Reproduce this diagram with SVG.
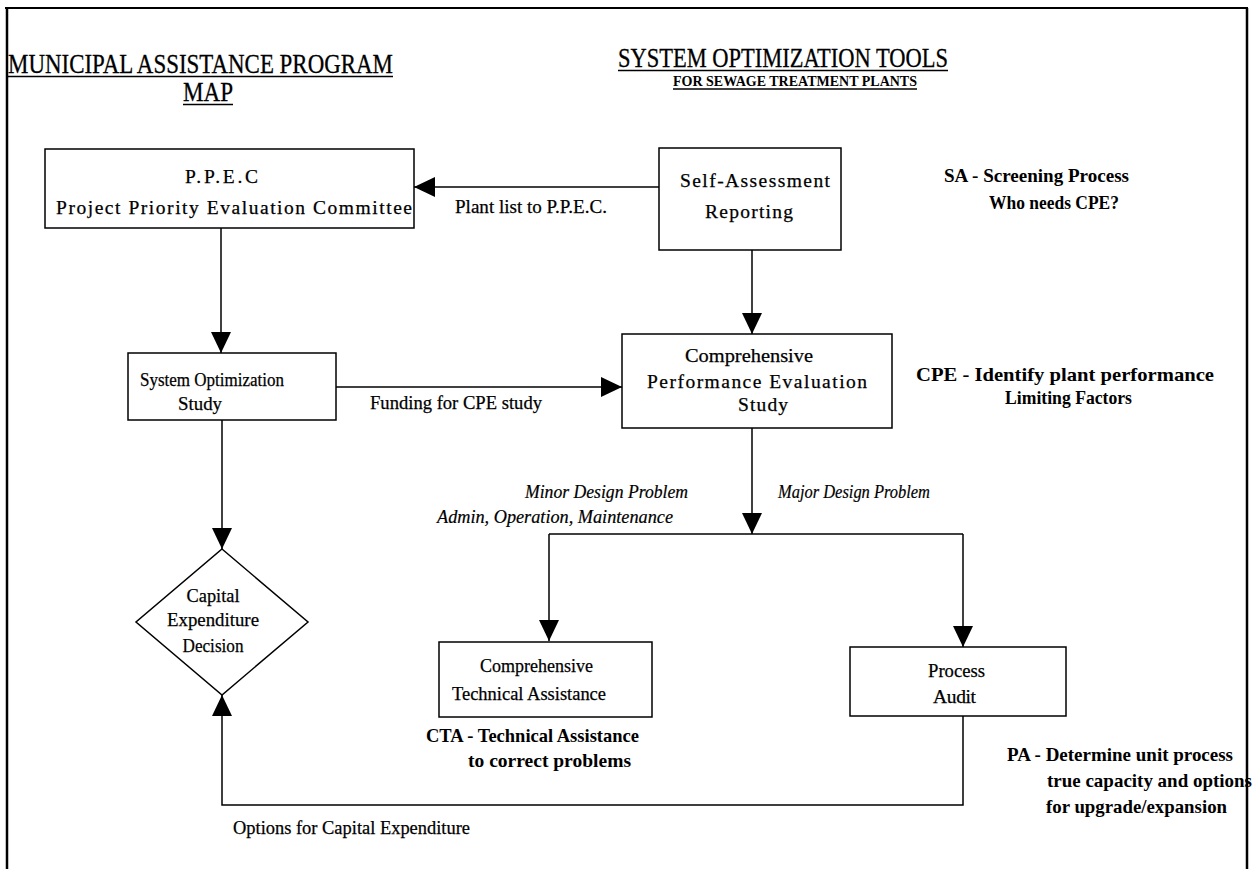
<svg xmlns="http://www.w3.org/2000/svg" width="1257" height="869" viewBox="0 0 1257 869">
  <defs>
    <marker id="arrow" markerUnits="userSpaceOnUse" markerWidth="22" markerHeight="20" refX="21" refY="10" orient="auto">
      <path d="M0,0 L21,10 L0,20 Z" fill="#000"/>
    </marker>
    <style>
      text { font-family: "Liberation Serif", "Times New Roman", serif; fill: #000; }
      .title { font-size: 27px; stroke: #000; stroke-width: 0.3; }
      .sub { font-size: 14px; font-weight: bold; }
      .box { fill: #fff; stroke: #000; stroke-width: 1.5; }
      .lbl { font-size: 19.5px; stroke: #000; stroke-width: 0.25; }
      .ital { font-size: 19px; font-style: italic; stroke: #000; stroke-width: 0.2; }
      .note { font-size: 19px; font-weight: bold; }
      .ul { stroke: #000; stroke-width: 1.6; }
      .conn line, .conn polyline { stroke: #000; stroke-width: 1.5; fill: none; }
    </style>
  </defs>
  <rect width="1257" height="869" fill="#fff"/>

  <!-- page frame -->
  <g id="frame" stroke="#000" fill="none">
    <line x1="5" y1="8" x2="1248" y2="8" stroke-width="2"/>
    <line x1="7" y1="8" x2="7" y2="869" stroke-width="2.5"/>
    <line x1="1247" y1="8" x2="1247" y2="869" stroke-width="2.5"/>
  </g>

  <!-- headings -->
  <g id="heading-left">
    <text class="title" x="8" y="73" textLength="385" lengthAdjust="spacingAndGlyphs">MUNICIPAL ASSISTANCE PROGRAM</text>
    <line class="ul" x1="8" y1="76.5" x2="393" y2="76.5"/>
    <text class="title" x="183" y="101" textLength="50" lengthAdjust="spacingAndGlyphs">MAP</text>
    <line class="ul" x1="183" y1="104.5" x2="233" y2="104.5"/>
  </g>
  <g id="heading-right">
    <text class="title" x="618" y="67" textLength="330" lengthAdjust="spacingAndGlyphs">SYSTEM OPTIMIZATION TOOLS</text>
    <line class="ul" x1="618" y1="70.5" x2="948" y2="70.5"/>
    <text class="sub" x="673" y="86" textLength="244" lengthAdjust="spacingAndGlyphs">FOR SEWAGE TREATMENT PLANTS</text>
    <line class="ul" x1="673" y1="89" x2="917" y2="89"/>
  </g>

  <!-- connectors -->
  <g id="connectors" class="conn">
    <line x1="659" y1="187" x2="414" y2="187" marker-end="url(#arrow)"/>
    <line x1="752" y1="250" x2="752" y2="334" marker-end="url(#arrow)"/>
    <line x1="221" y1="228" x2="221" y2="353" marker-end="url(#arrow)"/>
    <line x1="336" y1="387" x2="622" y2="387" marker-end="url(#arrow)"/>
    <line x1="752" y1="428" x2="752" y2="534" marker-end="url(#arrow)"/>
    <line x1="549" y1="534" x2="963" y2="534"/>
    <line x1="549" y1="534" x2="549" y2="641" marker-end="url(#arrow)"/>
    <line x1="963" y1="534" x2="963" y2="647" marker-end="url(#arrow)"/>
    <line x1="222" y1="420" x2="222" y2="549" marker-end="url(#arrow)"/>
    <polyline points="963,716 963,805 222,805 222,695" marker-end="url(#arrow)"/>
  </g>

  <!-- connector labels -->
  <g id="connector-labels">
    <text class="lbl" x="455" y="213" textLength="152" lengthAdjust="spacingAndGlyphs">Plant list to P.P.E.C.</text>
    <text class="lbl" x="370" y="409" textLength="172" lengthAdjust="spacingAndGlyphs">Funding for CPE study</text>
    <text class="ital" x="525" y="498" textLength="163" lengthAdjust="spacingAndGlyphs">Minor Design Problem</text>
    <text class="ital" x="437" y="523" textLength="236" lengthAdjust="spacingAndGlyphs">Admin, Operation, Maintenance</text>
    <text class="ital" x="778" y="498" textLength="152" lengthAdjust="spacingAndGlyphs">Major Design Problem</text>
    <text class="lbl" x="233" y="834" textLength="237" lengthAdjust="spacingAndGlyphs">Options for Capital Expenditure</text>
  </g>

  <!-- nodes -->
  <g id="ppec">
    <rect class="box" x="45" y="149" width="369" height="79"/>
    <text class="lbl" x="185" y="183" textLength="73" lengthAdjust="spacing">P.P.E.C</text>
    <text class="lbl" x="56" y="214" textLength="356" lengthAdjust="spacing">Project Priority Evaluation Committee</text>
  </g>

  <g id="self-assessment">
    <rect class="box" x="659" y="148" width="182" height="102"/>
    <text class="lbl" x="680" y="187" textLength="150" lengthAdjust="spacing">Self-Assessment</text>
    <text class="lbl" x="705" y="218" textLength="88" lengthAdjust="spacing">Reporting</text>
  </g>

  <g id="system-optimization-study">
    <rect class="box" x="128" y="353" width="208" height="67"/>
    <text class="lbl" x="140" y="386" textLength="144" lengthAdjust="spacingAndGlyphs">System Optimization</text>
    <text class="lbl" x="178" y="410" textLength="44" lengthAdjust="spacingAndGlyphs">Study</text>
  </g>

  <g id="cpe">
    <rect class="box" x="622" y="334" width="270" height="94"/>
    <text class="lbl" x="685" y="362" textLength="128" lengthAdjust="spacingAndGlyphs">Comprehensive</text>
    <text class="lbl" x="647" y="388" textLength="220" lengthAdjust="spacing">Performance Evaluation</text>
    <text class="lbl" x="738" y="411" textLength="50" lengthAdjust="spacing">Study</text>
  </g>

  <g id="capital-expenditure-decision">
    <polygon points="222,549 308,622 222,695 136,622" fill="#fff" stroke="#000" stroke-width="1.5"/>
    <text class="lbl" x="213" y="602" text-anchor="middle" textLength="53" lengthAdjust="spacingAndGlyphs">Capital</text>
    <text class="lbl" x="213" y="626" text-anchor="middle" textLength="92" lengthAdjust="spacingAndGlyphs">Expenditure</text>
    <text class="lbl" x="213" y="652" text-anchor="middle" textLength="61" lengthAdjust="spacingAndGlyphs">Decision</text>
  </g>

  <g id="cta">
    <rect class="box" x="439" y="642" width="213" height="75"/>
    <text class="lbl" x="480" y="672" textLength="113" lengthAdjust="spacingAndGlyphs">Comprehensive</text>
    <text class="lbl" x="452" y="700" textLength="154" lengthAdjust="spacingAndGlyphs">Technical Assistance</text>
  </g>

  <g id="process-audit">
    <rect class="box" x="850" y="647" width="216" height="69"/>
    <text class="lbl" x="928" y="677" textLength="57" lengthAdjust="spacingAndGlyphs">Process</text>
    <text class="lbl" x="933" y="703" textLength="43" lengthAdjust="spacing">Audit</text>
  </g>

  <!-- side notes -->
  <g id="notes">
    <text class="note" x="944" y="182" textLength="185" lengthAdjust="spacingAndGlyphs">SA - Screening Process</text>
    <text class="note" x="989" y="209" textLength="130" lengthAdjust="spacingAndGlyphs">Who needs CPE?</text>
    <text class="note" x="916" y="381" textLength="298" lengthAdjust="spacingAndGlyphs">CPE - Identify plant performance</text>
    <text class="note" x="1005" y="404" textLength="127" lengthAdjust="spacingAndGlyphs">Limiting Factors</text>
    <text class="note" x="426" y="742" textLength="213" lengthAdjust="spacingAndGlyphs">CTA - Technical Assistance</text>
    <text class="note" x="468" y="767" textLength="163" lengthAdjust="spacingAndGlyphs">to correct problems</text>
    <text class="note" x="1007" y="761" textLength="226" lengthAdjust="spacingAndGlyphs">PA - Determine unit process</text>
    <text class="note" x="1047" y="787" textLength="205" lengthAdjust="spacingAndGlyphs">true capacity and options</text>
    <text class="note" x="1046" y="813" textLength="181" lengthAdjust="spacingAndGlyphs">for upgrade/expansion</text>
  </g>
</svg>
